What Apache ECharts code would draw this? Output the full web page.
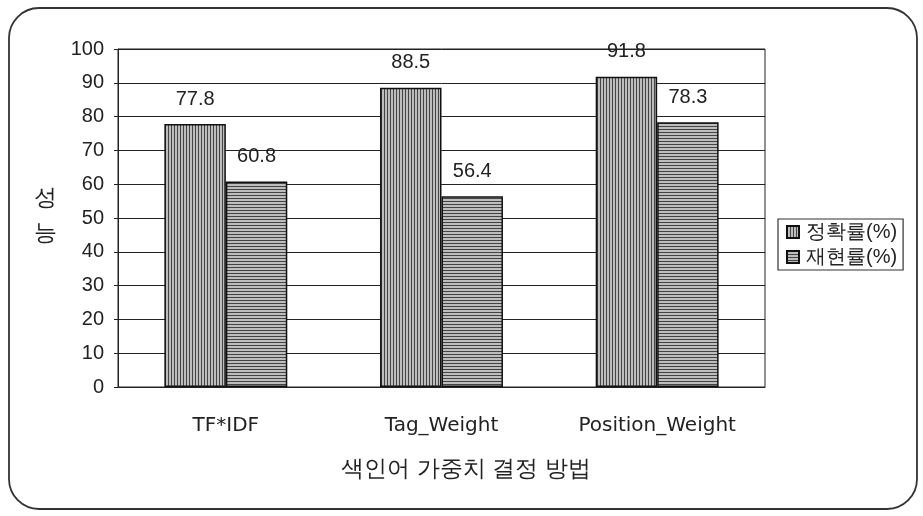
<!DOCTYPE html>
<html><head><meta charset="utf-8">
<script src="https://cdn.jsdelivr.net/npm/echarts@6/dist/echarts.min.js"></script>
<style>html,body{margin:0;padding:0;background:#fff}#c{width:923px;height:516px}</style>
</head><body><div id="c"></div>
<script>
const categories = ['TF*IDF', 'Tag_Weight', 'Position_Weight'];
const precision = [77.8, 88.5, 91.8];
const recall = [60.8, 56.4, 78.3];
const seriesNames = ['정확률(%)', '재현률(%)'];
const yTicks = [0, 10, 20, 30, 40, 50, 60, 70, 80, 90, 100];
const yName = '성\n능';
const xName = '색인어 가중치 결정 방법';

function hatch(vertical) {
  const c = document.createElement('canvas');
  c.width = 3; c.height = 3;
  const g = c.getContext('2d');
  g.fillStyle = '#bdbdbd';
  g.fillRect(0, 0, 3, 3);
  g.fillStyle = '#444';
  if (vertical) g.fillRect(0, 0, 1, 3); else g.fillRect(0, 0, 3, 1);
  return { image: c, repeat: 'repeat' };
}

const font = '"Liberation Sans", Arial, sans-serif';
const wide = '"DejaVu Sans", sans-serif';
const chart = echarts.init(document.getElementById('c'));
chart.setOption({
  backgroundColor: '#fff',
  textStyle: { fontFamily: font, color: '#222' },
  graphic: [{
    type: 'rect', shape: { x: 9, y: 8, width: 908, height: 501, r: 30 },
    style: { fill: 'none', stroke: '#333', lineWidth: 1.8 }, z: -1
  }, {
    type: 'text', x: 45, y: 216,
    style: { text: yName, fontSize: 23, lineHeight: 35, fill: '#222', fontFamily: font, align: 'center', verticalAlign: 'middle' }
  }, {
    type: 'text', x: 466, y: 470,
    style: { text: xName, fontSize: 23, fill: '#222', fontFamily: font, align: 'center', verticalAlign: 'middle' }
  }],
  grid: { left: 118, right: 158, top: 49, bottom: 129, show: true, borderColor: '#222', borderWidth: 1 },
  legend: {
    orient: 'vertical', left: 778, top: 219, icon: 'rect', itemWidth: 12, itemHeight: 12, itemGap: 5,
    borderColor: '#333', borderWidth: 1.2, padding: [3, 6, 3, 8],
    textStyle: { fontSize: 20, color: '#222', fontFamily: font, padding: [0, 0, 0, 2] },
    data: seriesNames
  },
  xAxis: {
    type: 'category', data: categories,
    axisLine: { lineStyle: { color: '#222' } },
    axisTick: { inside: true, length: 5, lineStyle: { color: '#222' } },
    axisLabel: { fontSize: 20, color: '#222', margin: 29, fontFamily: wide }
  },
  yAxis: {
    type: 'value', min: yTicks[0], max: yTicks[yTicks.length - 1], interval: yTicks[1] - yTicks[0],
    axisLine: { show: true, lineStyle: { color: '#222' } },
    axisTick: { show: true, length: 4, lineStyle: { color: '#222' } },
    axisLabel: { fontSize: 20, color: '#222', margin: 14 },
    splitLine: { lineStyle: { color: '#222', width: 1 } }
  },
  series: [{
    name: seriesNames[0], type: 'bar', data: precision,
    barGap: '0%', barCategoryGap: '43%',
    itemStyle: { color: hatch(true), borderColor: '#111', borderWidth: 1.5 },
    label: { show: true, position: 'top', distance: 15, fontSize: 20, color: '#222' }
  }, {
    name: seriesNames[1], type: 'bar', data: recall,
    itemStyle: { color: hatch(false), borderColor: '#111', borderWidth: 1.5 },
    label: { show: true, position: 'top', distance: 15, fontSize: 20, color: '#222' }
  }]
});
</script></body></html>
